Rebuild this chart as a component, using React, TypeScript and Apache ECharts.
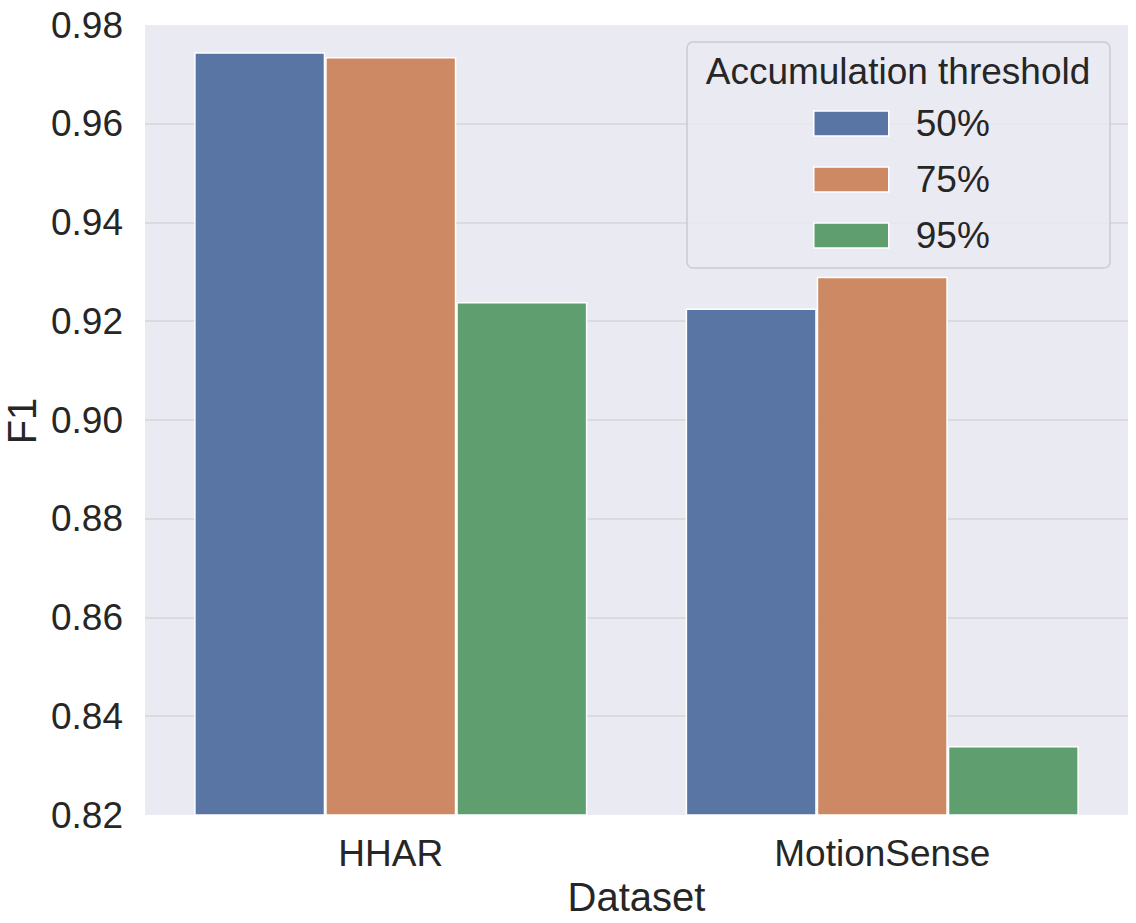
import React, { useEffect, useRef } from "react";
import * as echarts from "echarts";

const categories = ["HHAR", "MotionSense"];
const seriesNames = ["50%", "75%", "95%"];
const values50 = [0.9745, 0.9226];
const values75 = [0.9735, 0.929];
const values95 = [0.9239, 0.834];
const yTicks = { min: 0.82, max: 0.98, interval: 0.02 };
const colors = ["#5875A4", "#CC8963", "#5F9E6E"];

const FONT = "'Liberation Sans', Arial, 'DejaVu Sans', sans-serif";
const TEXT = "#262626";

export default function App() {
  const ref = useRef<HTMLDivElement>(null);
  useEffect(() => {
    document.body.style.margin = "0";
    if (!ref.current) return;
    const chart = echarts.init(ref.current, undefined, { renderer: "svg" });
    const data = [values50, values75, values95];
    chart.setOption({
      animation: false,
      backgroundColor: "#ffffff",
      textStyle: { fontFamily: FONT, color: TEXT },
      grid: {
        left: 145,
        right: 8,
        top: 25,
        bottom: 108,
        show: true,
        backgroundColor: "#EAEAF2",
        borderWidth: 0,
        containLabel: false,
        outerBoundsMode: "none",
      },
      xAxis: {
        type: "category",
        data: categories,
        axisLine: { show: false },
        axisTick: { show: false },
        splitLine: { show: false },
        axisLabel: { fontSize: 37, color: TEXT, fontFamily: FONT, margin: 20 },
        name: "Dataset",
        nameLocation: "middle",
        nameGap: 62,
        nameTextStyle: { fontSize: 40, color: TEXT, fontFamily: FONT },
      },
      yAxis: {
        type: "value",
        min: yTicks.min,
        max: yTicks.max,
        interval: yTicks.interval,
        axisLine: { show: false },
        axisTick: { show: false },
        splitLine: {
          show: true,
          showMinLine: false,
          showMaxLine: false,
          lineStyle: { color: "#D5D5DA", width: 1.5 },
        },
        axisLabel: {
          fontSize: 37,
          color: TEXT,
          fontFamily: FONT,
          margin: 22,
          formatter: (v: number) => v.toFixed(2),
        },
      },
      legend: {
        orient: "vertical",
        left: 808,
        top: 100,
        itemWidth: 75,
        itemHeight: 25,
        itemGap: 19,
        icon: "rect",
        data: seriesNames,
        itemStyle: { borderColor: "#ffffff", borderWidth: 1.5 },
        textStyle: {
          fontSize: 37,
          color: TEXT,
          fontFamily: FONT,
          lineHeight: 36,
          padding: [0, 0, 0, 22],
        },
        selectedMode: false,
        z: 10,
      },
      graphic: [
        {
          type: "rect",
          shape: { x: 687, y: 42, width: 423, height: 226, r: 6 },
          style: {
            fill: "rgba(234,234,242,0.8)",
            stroke: "rgba(200,200,204,0.9)",
            lineWidth: 1.5,
          },
          z: 5,
        },
        {
          type: "text",
          x: 898,
          y: 71,
          style: {
            text: "Accumulation threshold",
            fontSize: 37,
            fontFamily: FONT,
            fill: TEXT,
            textAlign: "center",
            textVerticalAlign: "middle",
          },
          z: 6,
        },
        {
          type: "text",
          x: 22,
          y: 421,
          rotation: Math.PI / 2,
          style: {
            text: "F1",
            fontSize: 40,
            fontFamily: FONT,
            fill: TEXT,
            textAlign: "center",
            textVerticalAlign: "middle",
          },
          z: 6,
        },
      ],
      series: seriesNames.map((name, i) => ({
        name,
        type: "bar",
        data: data[i],
        barGap: "0%",
        barCategoryGap: "20%",
        itemStyle: { color: colors[i], borderColor: "#ffffff", borderWidth: 1.5 },
      })),
    });
    return () => chart.dispose();
  }, []);
  return <div ref={ref} style={{ width: 1136, height: 923 }} />;
}
